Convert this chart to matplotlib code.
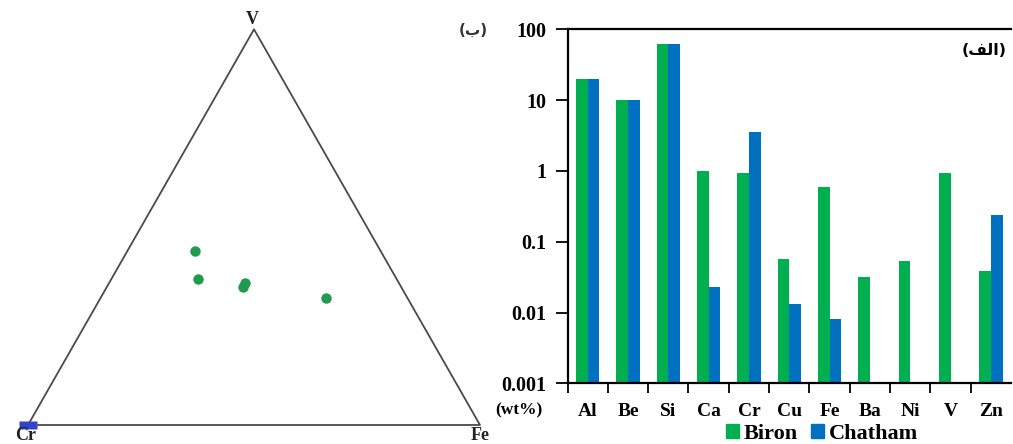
import numpy as np
import matplotlib
matplotlib.use("Agg")
import matplotlib.pyplot as plt
from matplotlib.patches import Patch

# ---- data ----
elements = ["Al", "Be", "Si", "Ca", "Cr", "Cu", "Fe", "Ba", "Ni", "V", "Zn"]
biron = [20, 10, 63, 1.0, 0.92, 0.057, 0.59, 0.032, 0.054, 0.92, 0.039]
chatham = [20, 10, 63, 0.023, 3.5, 0.013, 0.008, np.nan, np.nan, np.nan, 0.24]
ytick_vals = [0.001, 0.01, 0.1, 1, 10, 100]
ytick_labels = ["0.001", "0.01", "0.1", "1", "10", "100"]

# ternary compositions (Cr, Fe, V) in %
biron_cr = [41, 44, 34, 35, 18]
biron_fe = [15, 19, 30, 30, 50]
biron_v = [44, 37, 36, 35, 32]
chatham_cr = [100]
chatham_fe = [0]
chatham_v = [0]

GREEN = "#00B050"
BLUE = "#0070C0"
serif = "Liberation Serif"
H = np.sqrt(3) / 2


def tern_xy(cr, fe, v):
    cr, fe, v = (np.asarray(a, dtype=float) for a in (cr, fe, v))
    s = cr + fe + v
    x = (fe + 0.5 * v) / s
    y = H * v / s
    return x, y


W, HT = 1013, 444
fig = plt.figure(figsize=(W / 100, HT / 100), dpi=100)

# ---- ternary diagram ----
ax1 = fig.add_axes([28 / W, (HT - 425) / HT, 452 / W, 395.7 / HT])
ax1.set_xlim(0, 1)
ax1.set_ylim(0, H)
ax1.axis("off")
cx, cy = tern_xy([100, 0, 0, 100], [0, 100, 0, 0], [0, 0, 100, 0])
ax1.plot(cx, cy, color="#4a4a4a", lw=1.3, clip_on=False)

bx, by = tern_xy(biron_cr, biron_fe, biron_v)
ax1.plot(bx, by, "o", color="#1f9a4f", ms=7.5, mec="none", ls="none", clip_on=False)
hx, hy = tern_xy(chatham_cr, chatham_fe, chatham_v)
rect = [(-1.2, -0.55), (1.2, -0.55), (1.2, 0.55), (-1.2, 0.55), (-1.2, -0.55)]
ax1.plot(hx, hy, marker=rect, color="#3344cc", ms=13, mec="none",
         ls="none", clip_on=False)

lab = dict(fontfamily=serif, fontweight="bold", fontsize=13, color="#222222",
           ha="center", va="center", clip_on=False)
fig.text(252 / W, 1 - 19 / HT, "V", **lab)
fig.text(26 / W, 1 - 435 / HT, "Cr", **lab)
fig.text(480 / W, 1 - 435 / HT, "Fe", **lab)

fig.text(473 / W, 1 - 30 / HT, "(\uFE8F)", fontfamily="DejaVu Sans",
         fontweight="bold", fontsize=11, color="#333333",
         ha="center", va="center")

# ---- bar chart ----
ax2 = fig.add_axes([567.5 / W, (HT - 383.3) / HT, (1011 - 567.5) / W, 354 / HT])
x = np.arange(len(elements))
bw = 0.29
ax2.bar(x - bw / 2, biron, bw, color=GREEN, label="Biron")
ax2.bar(x + bw / 2, chatham, bw, color=BLUE, label="Chatham")
ax2.set_yscale("log")
ax2.set_ylim(0.001, 100)
ax2.set_xlim(-0.5, len(elements) - 0.5)
ax2.set_yticks(ytick_vals)
ax2.set_yticklabels(ytick_labels)
ax2.yaxis.set_minor_locator(matplotlib.ticker.NullLocator())
ax2.set_xticks(np.arange(len(elements)) - 0.5)
ax2.set_xticklabels([])
ax2.set_xticks(x, minor=True)
ax2.set_xticklabels(elements, minor=True)
ax2.tick_params(axis="x", which="major", length=7, width=1.3, direction="out")
ax2.tick_params(axis="x", which="minor", length=0, pad=14)
ax2.tick_params(axis="y", which="major", length=9, width=1.3, direction="out", pad=6)
for t in ax2.get_xticklabels(minor=True):
    t.set_fontfamily(serif)
    t.set_fontweight("bold")
    t.set_fontsize(14)
for t in ax2.get_yticklabels():
    t.set_fontfamily(serif)
    t.set_fontweight("bold")
    t.set_fontsize(14.5)
for side in ["left", "bottom", "top"]:
    ax2.spines[side].set_linewidth(1.6)
ax2.spines["right"].set_visible(False)

ax2.text(0.939, 0.94, "(\uFED2\uFEDF\uFE8D)", transform=ax2.transAxes,
         fontfamily="DejaVu Sans", fontweight="bold", fontsize=11.5,
         ha="center", va="center")
fig.text(519 / W, 1 - 410 / HT, "(wt%)", fontfamily=serif, fontweight="bold",
         fontsize=12.5, ha="center", va="center")

handles = [Patch(color=GREEN, label="Biron"), Patch(color=BLUE, label="Chatham")]
fig.legend(handles=handles, loc="center", bbox_to_anchor=(822 / W, 1 - 434 / HT),
           ncol=2, frameon=False, handlelength=0.6, handleheight=0.6,
           handletextpad=0.2, columnspacing=0.6,
           prop=dict(family=serif, weight="bold", size=16))

fig.savefig("out.png", dpi=100)
